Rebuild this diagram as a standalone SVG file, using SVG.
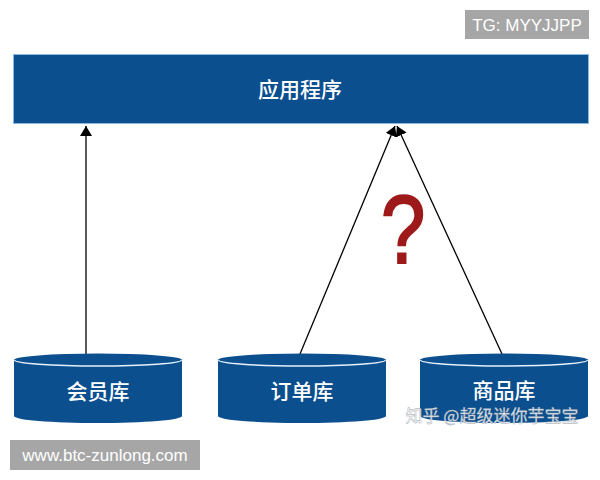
<svg xmlns="http://www.w3.org/2000/svg" width="600" height="480" viewBox="0 0 600 480">
<defs>
<style>
.box{fill:#0b4f8f;stroke:#8bb8e0;stroke-width:1}
.cyl{fill:#0b4f8f}
.rim{fill:none;stroke:#e6f0fa;stroke-width:1.5}
.lbl{font-family:"Noto Sans CJK SC","Noto Sans",sans-serif;font-size:21px;fill:#ffffff;text-anchor:middle;font-weight:500}
.edge{stroke:#000;stroke-width:1.3;fill:none;marker-end:url(#ah)}
.wm{fill:#a6a6a6}
.wmt{font-family:"Liberation Sans",Arial,sans-serif;font-size:17px;fill:#ffffff;text-anchor:middle}
</style>
<marker id="ah" viewBox="0 0 10 12" refX="10" refY="6" markerWidth="10" markerHeight="12" markerUnits="userSpaceOnUse" orient="auto">
<path d="M0,0 L10,6 L0,12 Z" fill="#000"/>
</marker>
</defs>
<rect width="600" height="480" fill="#ffffff"/>
<g id="app">
<rect class="box" x="13.5" y="54.5" width="575" height="69"/>
<text class="lbl" x="300" y="97">应用程序</text>
</g>
<g id="connectors">
<line class="edge" x1="86" y1="354" x2="86" y2="126"/>
<line class="edge" x1="300" y1="354" x2="395" y2="126"/>
<line class="edge" x1="502" y1="354" x2="397" y2="126"/>
</g>
<g id="member">
<path class="cyl" d="M14,360 L14,416 A84,7 0 0 0 182,416 L182,360 Z"/>
<ellipse class="cyl" cx="98" cy="360" rx="84" ry="6.5"/>
<path class="rim" d="M14.5,360 A83.5,6 0 0 0 181.5,360"/>
<text class="lbl" x="98" y="399">会员库</text>
</g>
<g id="order">
<path class="cyl" d="M218,360 L218,416 A84,7 0 0 0 386,416 L386,360 Z"/>
<ellipse class="cyl" cx="302" cy="360" rx="84" ry="6.5"/>
<path class="rim" d="M218.5,360 A83.5,6 0 0 0 385.5,360"/>
<text class="lbl" x="302" y="399">订单库</text>
</g>
<g id="product">
<path class="cyl" d="M420,360 L420,416 A84,7 0 0 0 588,416 L588,360 Z"/>
<ellipse class="cyl" cx="504" cy="360" rx="84" ry="6.5"/>
<path class="rim" d="M420.5,360 A83.5,6 0 0 0 587.5,360"/>
<text class="lbl" x="504" y="398">商品库</text>
</g>
<text transform="translate(403,263) scale(0.82,1)" x="0" y="0" font-family="Liberation Sans,Arial,sans-serif" font-size="97" fill="#9e1a1a" stroke="#9e1a1a" stroke-width="2.2" text-anchor="middle">?</text>
<text x="492" y="422" font-family="Noto Sans CJK SC,sans-serif" font-size="17" fill="#ffffff" fill-opacity="0.9" stroke="#9aa4ae" stroke-width="0.4" text-anchor="middle">知乎 @超级迷你芋宝宝</text>
<g id="wm1">
<rect class="wm" x="465" y="10" width="124" height="29"/>
<text class="wmt" x="527" y="30.5">TG: MYYJJPP</text>
</g>
<g id="wm2">
<rect class="wm" x="10" y="440" width="190" height="30"/>
<text class="wmt" x="105" y="461">www.btc-zunlong.com</text>
</g>
</svg>
